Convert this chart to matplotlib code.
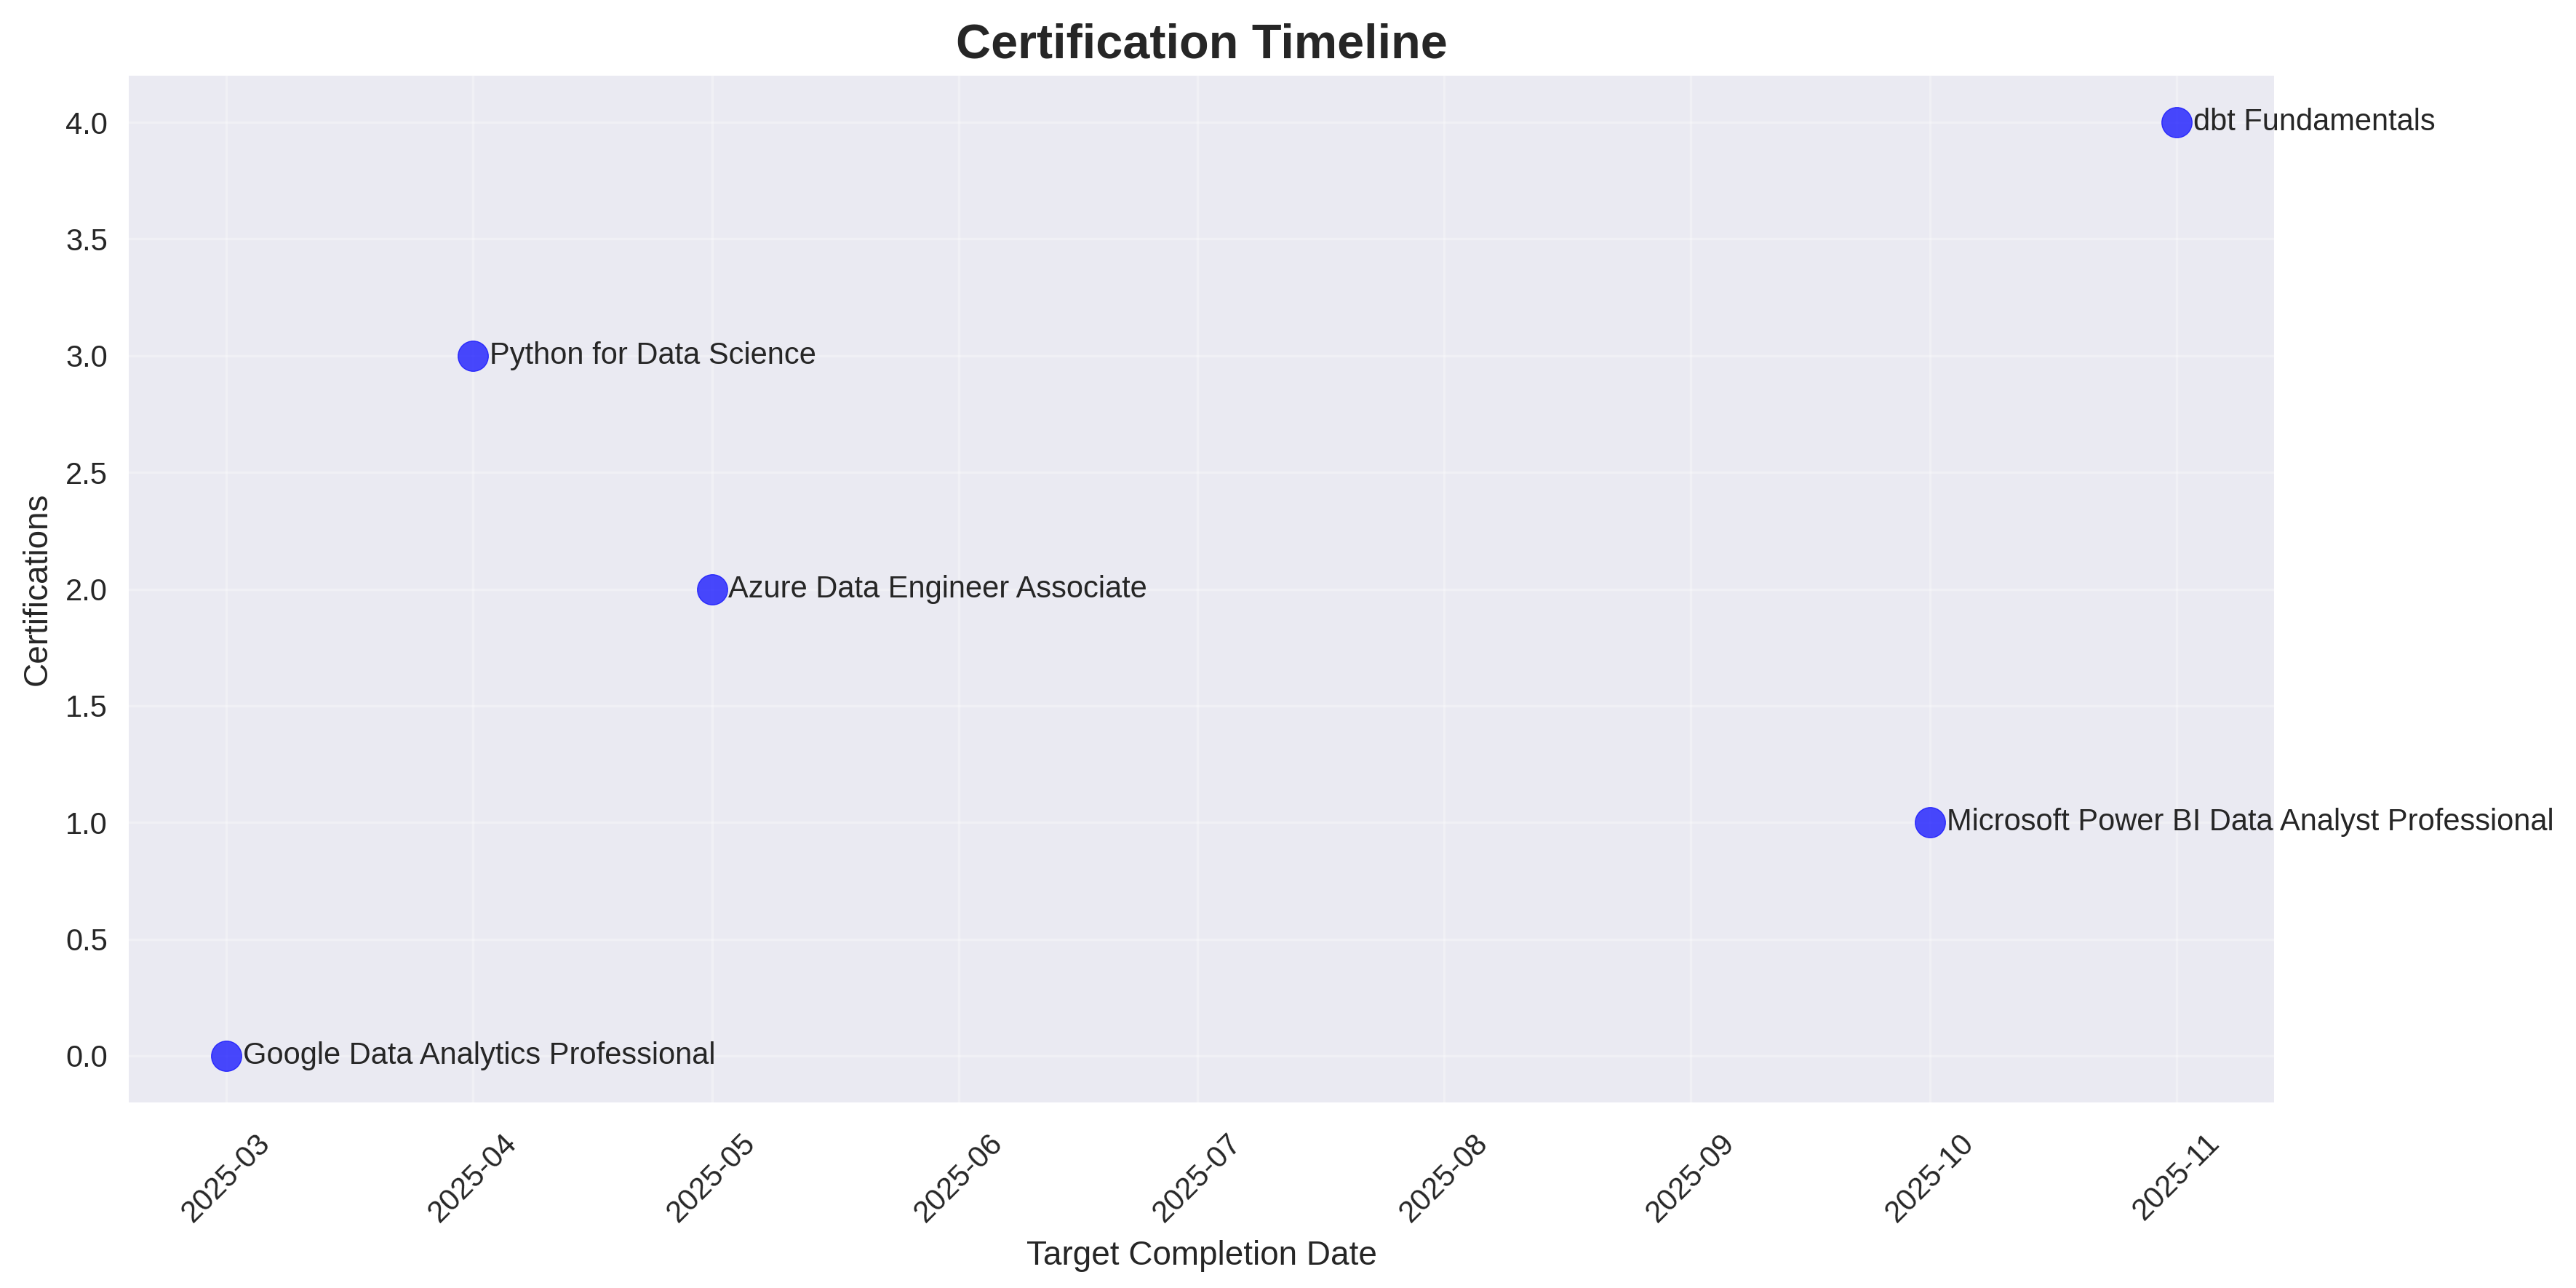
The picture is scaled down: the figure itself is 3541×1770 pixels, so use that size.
import matplotlib
matplotlib.use("Agg")
import matplotlib.pyplot as plt
import matplotlib.dates as mdates
import pandas as pd

certifications = [
    "Google Data Analytics Professional",
    "Python for Data Science",
    "Azure Data Engineer Associate",
    "Microsoft Power BI Data Analyst Professional",
    "dbt Fundamentals",
]
target_dates = ["2025-03-01", "2025-04-01", "2025-05-01", "2025-10-01", "2025-11-01"]
positions = [0, 3, 2, 1, 4]

plt.style.use("seaborn-v0_8-darkgrid")
plt.rcParams["font.family"] = ["Liberation Sans", "DejaVu Sans"]

dates = pd.to_datetime(target_dates)

fig = plt.figure(figsize=(3541 / 300, 1770 / 300), dpi=300)
ax = fig.add_axes([177 / 3541, 1 - 1515 / 1770, (3126 - 177) / 3541, (1515 - 104) / 1770])

ax.scatter(dates, positions, s=100, color="blue", alpha=0.7, linewidths=0.3,
           edgecolors="blue", zorder=3)
for name, d, y in zip(certifications, dates, positions):
    ax.annotate(name, (d, y), xytext=(5.5, 0), textcoords="offset points",
                ha="left", va="center", fontsize=10, annotation_clip=False)

ax.xaxis.set_major_locator(mdates.MonthLocator())
ax.xaxis.set_major_formatter(mdates.DateFormatter("%Y-%m"))
plt.setp(ax.get_xticklabels(), rotation=45)
ax.tick_params(axis="x", length=0, pad=8.5)
ax.tick_params(axis="y", length=0, pad=7)

ax.set_title("Certification Timeline", fontsize=16, fontweight="bold")
ax.set_xlabel("Target Completion Date", fontsize=11)
ax.set_ylabel("Certifications", fontsize=11)
ax.grid(True, alpha=0.3)

fig.savefig("out.png", dpi=300)
